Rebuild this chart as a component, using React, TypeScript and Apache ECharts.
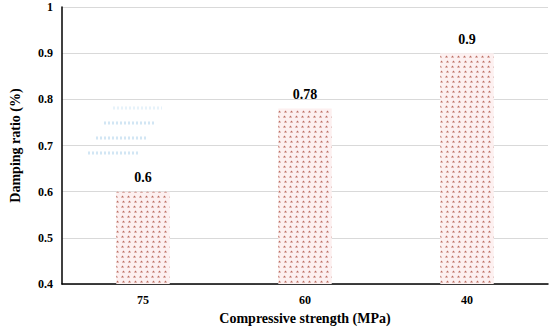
import React, { useEffect, useRef } from "react";
import * as echarts from "echarts";

const categories = ["75", "60", "40"];
const dampingRatio = [0.6, 0.78, 0.9];
const yTicks = { min: 0.4, max: 1, interval: 0.1 };

export default function App() {
  const ref = useRef<HTMLDivElement>(null);
  useEffect(() => {
    if (!ref.current) return;
    const chart = echarts.init(ref.current, undefined, { renderer: "svg" });
    const font = "Liberation Serif";
    const ghostRows = [
      [113, 108, 162],
      [104, 123, 156],
      [96, 138, 148],
      [88, 153, 140],
    ];
    chart.setOption({
      animation: false,
      backgroundColor: "#ffffff",
      textStyle: { fontFamily: font },
      grid: { left: 55, right: 2, top: 7, bottom: 40, containLabel: false },
      xAxis: {
        type: "category",
        data: categories,
        name: "Compressive strength (MPa)",
        nameLocation: "middle",
        nameGap: 27,
        nameTextStyle: { fontFamily: font, fontWeight: "bold", fontSize: 14, color: "#000" },
        axisLine: { lineStyle: { color: "#000", width: 1.5 } },
        axisTick: { show: false },
        axisLabel: { fontFamily: font, fontWeight: "bold", fontSize: 12, color: "#000", margin: 10 },
      },
      yAxis: {
        type: "value",
        min: yTicks.min,
        max: yTicks.max,
        interval: yTicks.interval,
        name: "Damping ratio (%)",
        nameLocation: "middle",
        nameGap: 40,
        nameTextStyle: { fontFamily: font, fontWeight: "bold", fontSize: 14, color: "#000" },
        axisLine: { show: true, lineStyle: { color: "#000", width: 1.5 } },
        axisTick: { show: false },
        splitLine: { lineStyle: { color: "#d9d9d9", width: 1 } },
        axisLabel: {
          fontFamily: font,
          fontWeight: "bold",
          fontSize: 12,
          color: "#000",
          margin: 9,
          formatter: (v: number) => String(Math.round(v * 10) / 10),
        },
      },
      series: [
        {
          type: "bar",
          data: dampingRatio,
          barWidth: "33%",
          itemStyle: {
            color: "#fdf0f0",
            decal: {
              symbol: "triangle",
              symbolSize: 0.6,
              color: "rgba(175,85,70,0.85)",
              dashArrayX: [[5, 1], [0, 1, 5, 0]],
              dashArrayY: [3, 2],
              rotation: 0,
            },
          },
          label: {
            show: true,
            position: "top",
            distance: 7,
            fontFamily: font,
            fontWeight: "bold",
            fontSize: 14,
            color: "#000",
          },
        },
      ],
      graphic: ghostRows.map((r, i) => ({
        type: "line",
        silent: true,
        shape: { x1: r[0], y1: r[1], x2: r[2], y2: r[1] },
        style: {
          stroke: i === 0 ? "#e6f2fa" : "#d2e6f4",
          lineWidth: 3,
          lineDash: [2, 2],
        },
      })),
    });
    return () => chart.dispose();
  }, []);
  return <div ref={ref} style={{ width: 550, height: 330, position: "absolute", left: 0, top: 0 }} />;
}
